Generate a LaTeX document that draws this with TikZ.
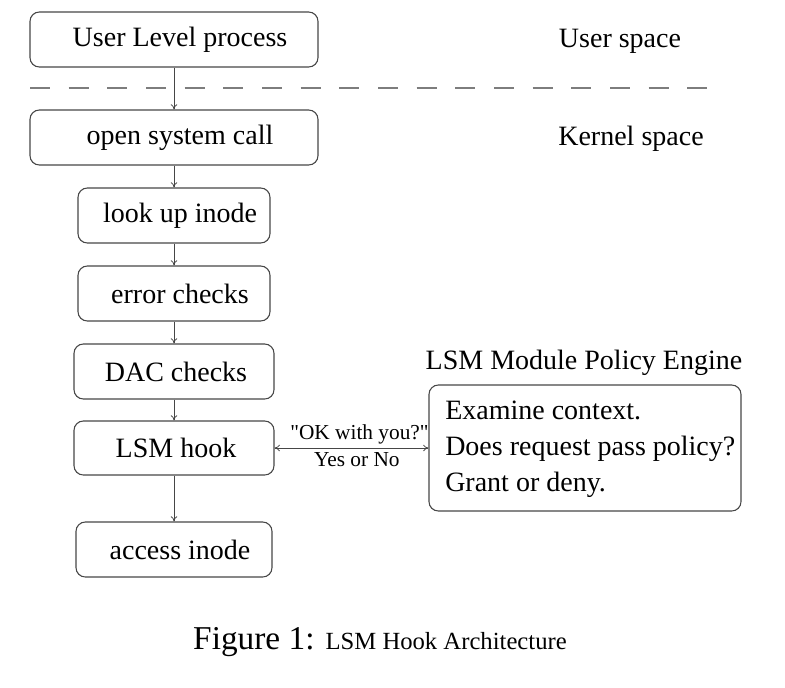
\documentclass[tikz,border=0pt]{standalone}
\usepackage{fontspec}
\setmainfont{Liberation Serif}
\usepackage{tikz}
\usetikzlibrary{arrows.meta}

\definecolor{boxline}{RGB}{70,70,70}
\definecolor{dashgray}{RGB}{125,125,125}

\begin{document}
\begin{tikzpicture}[x=0.75pt,y=0.75pt,yscale=-1,xscale=1,
    stagebox/.style={draw=boxline, line width=0.8pt, rounded corners=7pt, minimum height=41.25pt, inner sep=0pt, font=\fontsize{21}{27}\selectfont},
    flow/.style={draw=boxline, line width=0.6pt, -{To[length=4pt,width=5pt]}},
    bigtext/.style={font=\fontsize{21}{27}\selectfont},
    smalltext/.style={font=\fontsize{16}{19}\selectfont}]
    \useasboundingbox (0,0) rectangle (785,687);
    
    %Dashed line between user space and kernel space
    \draw [dashgray, line width=1.3pt, dash pattern=on 15pt off 14pt]  (30,88) -- (722,88) ;
    
    % Text Node
    \draw (174,39.5) node [stagebox, minimum width=216pt] (user) {\hspace{9pt}User Level process};
    % Text Node
    \draw (174,137.5) node [stagebox, minimum width=216pt] (open) {\hspace{9pt}open system call};
    % Text Node
    \draw (174,215.5) node [stagebox, minimum width=144pt] (lookup) {\hspace{9pt}look up inode};
    % Text Node
    \draw (174,293.5) node [stagebox, minimum width=144pt] (errors) {\hspace{9pt}error checks};
    % Text Node
    \draw (174,371.5) node [stagebox, minimum width=150pt] (dac) {\hspace{3pt}DAC checks};
    % Text Node
    \draw (174,448) node [stagebox, minimum width=150pt, minimum height=40.5pt] (hook) {\hspace{3pt}LSM hook};
    % Text Node
    \draw (174,549.5) node [stagebox, minimum width=147pt] (access) {\hspace{9pt}access inode};
    
    %Policy engine box and its text
    \draw (585,448) node [stagebox, minimum width=234pt, minimum height=94.5pt] (policy) {};
    \draw (445,449) node [anchor=west, align=left, inner sep=0pt, font=\fontsize{21}{27}\selectfont] (policytext) {Examine context.\\Does request pass policy?\\Grant or deny.};
    % Text Node
    \draw (584,363) node [bigtext] (engine) {LSM Module Policy Engine};
    % Text Node
    \draw (620,41) node [bigtext] (userspace) {User space};
    % Text Node
    \draw (631,139) node [bigtext] (kernelspace) {Kernel space};
    
    %Straight Lines
    \draw [flow] (user) -- (open) ;
    \draw [flow] (open) -- (lookup) ;
    \draw [flow] (lookup) -- (errors) ;
    \draw [flow] (errors) -- (dac) ;
    \draw [flow] (dac) -- (hook) ;
    \draw [flow] (hook) -- (access) ;
    \draw [flow, {To[length=4pt,width=5pt]}-{To[length=4pt,width=5pt]}] (hook) -- (policy)
        node [midway, above=-1pt, xshift=6pt, smalltext] (ask) {\textquotedbl OK with you?\textquotedbl}
        node [midway, below=0pt, xshift=4pt, smalltext] (answer) {Yes or No} ;
    
    % Caption
    \draw (380,642) node (caption) {\fontsize{25}{30}\selectfont Figure 1: \fontsize{18.5}{22}\selectfont LSM Hook Architecture};
    
\end{tikzpicture}
\end{document}
